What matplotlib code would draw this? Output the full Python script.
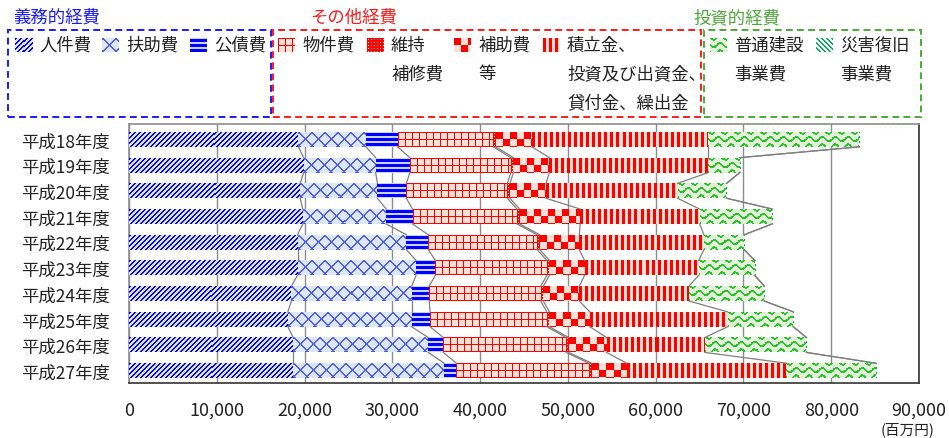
#!/usr/bin/env python3
import numpy as np
import matplotlib
matplotlib.use("Agg")
import matplotlib.pyplot as plt
from matplotlib.colors import to_rgb
from matplotlib.patches import Rectangle

plt.rcParams["font.family"] = ["Noto Sans CJK JP", "DejaVu Sans"]

# ---- data (百万円) ----
years = ["平成18年度", "平成19年度", "平成20年度", "平成21年度", "平成22年度",
         "平成23年度", "平成24年度", "平成25年度", "平成26年度", "平成27年度"]
jinken = [19300, 19900, 19500, 19800, 19200, 19200, 18500, 18100, 18700, 18700]
fujo = [7700, 8200, 8800, 9500, 12400, 13500, 13700, 14100, 15400, 17200]
kosai = [3600, 3900, 3300, 3000, 2500, 2200, 2000, 2100, 1700, 1400]
bukken = [10900, 11500, 11500, 11900, 12400, 12700, 12700, 13300, 14000, 15100]
iji = [300, 300, 300, 300, 300, 300, 300, 300, 300, 300]
hojo = [4100, 4100, 4100, 6900, 4500, 4000, 4100, 4600, 4300, 4000]
tsumitate = [20100, 18100, 15000, 13600, 14200, 13000, 12500, 15700, 11200, 18200]
futsu = [17150, 3570, 5560, 8240, 4560, 6370, 8550, 7460, 11540, 10150]
saigai = [50, 30, 40, 60, 40, 30, 50, 40, 60, 50]

series = [jinken, fujo, kosai, bukken, iji, hojo, tsumitate, futsu, saigai]
ticks = list(range(0, 90001, 10000))

# pattern name, foreground, background for each series
styles = [
    ("diag_up", "#0000ff", "#dbe3ff"),
    ("cross", "#4b5cf2", "#dce6f7"),
    ("hstripe", "#0000ff", "#c8d4ff"),
    ("grid", "#ff0000", "#fde1d7"),
    ("dots", "#ff0000", "#fbd3c6"),
    ("checker", "#ff0000", "#fde1d7"),
    ("vstripe", "#ff0000", "#fde1d7"),
    ("wave", "#22c422", "#e2f0d9"),
    ("diag_down", "#00b050", "#ffffff"),
]


def texture(kind, fg, bg, w, h):
    yy, xx = np.mgrid[0:h, 0:w]
    if kind == "diag_up":
        mask = (xx + yy) % 5 < 2
    elif kind == "diag_down":
        mask = (xx - yy) % 5 < 2
    elif kind == "cross":
        mask = ((xx + yy) % 13 < 2) | ((xx - yy) % 13 < 2)
    elif kind == "hstripe":
        mask = (yy + 4) % 5 < 3
    elif kind == "grid":
        mask = (xx % 7 == 0) | (yy % 7 == 0)
    elif kind == "dots":
        mask = ~((xx % 3 == 1) & (yy % 3 == 1))
    elif kind == "checker":
        mask = ((xx // 7) + (yy // 7)) % 2 == 0
    elif kind == "vstripe":
        mask = xx % 6 < 3
    else:  # wave
        d = (yy + 2.0 - 2.2 * np.sin(2 * np.pi * xx / 13.0)) % 7.5
        mask = d < 2.1
    img = np.where(mask[..., None], np.array(to_rgb(fg)), np.array(to_rgb(bg)))
    return img


W, H = 949, 439
fig = plt.figure(figsize=(W / 100, H / 100), dpi=100)

# plot area in pixels
ax_l, ax_r, ax_t, ax_b = 129, 919, 125, 384
ax = fig.add_axes([ax_l / W, 1 - ax_b / H, (ax_r - ax_l) / W, (ax_b - ax_t) / H])

xmax = 90000
ylim = (9.48, -0.6)
px_x = (ax_r - ax_l) / xmax
px_y = (ax_b - ax_t) / (ylim[0] - ylim[1])
bar_h = 0.58

ypos = np.arange(len(years))
left = np.zeros(len(years))
bounds = []
for vals, (kind, fg, bg) in zip(series, styles):
    vals = np.array(vals, dtype=float)
    bars = ax.barh(ypos, vals, left=left, height=bar_h, color=bg, linewidth=0, zorder=2)
    for b in bars:
        x0, y0 = b.get_x(), b.get_y()
        bw, bh = b.get_width(), b.get_height()
        wpx = max(int(round(bw * px_x)), 1)
        hpx = max(int(round(bh * px_y)), 1)
        ax.imshow(texture(kind, fg, bg, wpx, hpx), extent=(x0, x0 + bw, y0 + bh, y0),
                  aspect="auto", interpolation="nearest", zorder=3)
    left = left + vals
    bounds.append(left.copy())

# series lines between bars
for cum in bounds:
    for i in range(len(years) - 1):
        ax.plot([cum[i], cum[i + 1]], [i + bar_h / 2, i + 1 - bar_h / 2],
                color="#7f7f7f", lw=0.9, zorder=4)

ax.set_xlim(0, xmax)
ax.set_ylim(*ylim)
ax.set_xticks(ticks)
ax.set_xticklabels([f"{t:,}" for t in ticks], fontsize=13, color="#222222")
ax.set_yticks(ypos)
ax.set_yticklabels(years, fontsize=12.5, color="#222222")
ax.tick_params(axis="x", length=0, pad=13)
ax.tick_params(axis="y", length=0, pad=14)
ax.grid(axis="x", color="#8c8c8c", lw=1)
ax.set_axisbelow(True)
for side in ["left", "top"]:
    ax.spines[side].set_color("#8c8c8c")
for side in ["right", "bottom"]:
    ax.spines[side].set_color("#333333")
for s in ax.spines.values():
    s.set_linewidth(1.2)

fig.text(908 / W, 1 - 430 / H, "(百万円)", fontsize=10.5, ha="center", va="center",
         color="#222222")

# ---- legend built by hand ----
groups = [
    ("義務的経費", "#1a1aff", 13, (8, 31, 271, 118)),
    ("その他経費", "#ff1a1a", 310, (273, 31, 701, 118)),
    ("投資的経費", "#4ea83a", 693, (704, 31, 921, 118)),
]
for title, col, tx, (x0, y0, x1, y1) in groups:
    fig.text(tx / W, 1 - 18 / H, title, color=col, fontsize=12.5, va="center")
    fig.add_artist(Rectangle((x0 / W, 1 - y1 / H), (x1 - x0) / W, (y1 - y0) / H,
                             transform=fig.transFigure, fill=False, ec=col,
                             ls=(0, (3.5, 2.2)), lw=1.4))

labels = ["人件費", "扶助費", "公債費", "物件費", "維持\n補修費", "補助費\n等",
          "積立金、\n投資及び出資金、\n貸付金、繰出金", "普通建設\n事業費", "災害復旧\n事業費"]
swatch_x = [15, 102, 190, 278, 367, 454, 543, 710, 816]
for lab, sx, (kind, fg, bg) in zip(labels, swatch_x, styles):
    sw, sh = 17, 14
    sax = fig.add_axes([sx / W, 1 - (39 + sh) / H, sw / W, sh / H])
    sax.imshow(texture(kind, fg, bg, sw, sh), aspect="auto", interpolation="nearest")
    sax.axis("off")
    for k, line in enumerate(lab.split("\n")):
        fig.text((sx + 24) / W, 1 - (46 + 28.5 * k) / H, line, fontsize=12.5,
                 va="center", color="#222222")

fig.savefig("out.png", dpi=100)
